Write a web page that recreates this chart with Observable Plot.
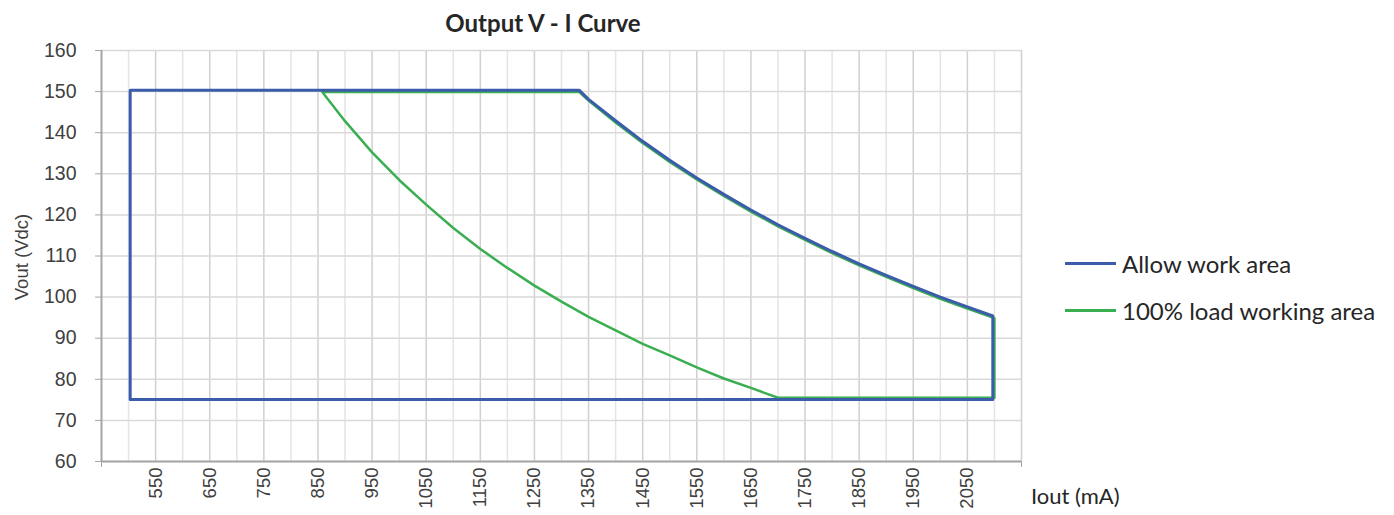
<!DOCTYPE html>
<html><head><meta charset="utf-8">
<script src="https://cdn.jsdelivr.net/npm/d3@7"></script>
<script src="https://cdn.jsdelivr.net/npm/@observablehq/plot@0.6"></script>
<style>
body{margin:0;background:#fff;}
#wrap{position:relative;width:1394px;height:515px;overflow:hidden;}
.t{position:absolute;white-space:nowrap;color:#262626;font-family:Lato,"Open Sans",sans-serif;}
.leg{position:absolute;left:1065px;display:flex;align-items:center;height:30px;}
.leg span.sw{display:inline-block;width:51px;height:3px;margin-right:6px;}
.leg span.tx{font-family:Lato,"Open Sans",sans-serif;font-size:24px;color:#262626;}
</style>
</head><body>
<div id="wrap"></div>
<script>
// ---- data ----
const xDomain = [450, 2150];
const yDomain = [60, 160];
const xTickLabels = [550, 650, 750, 850, 950, 1050, 1150, 1250, 1350, 1450, 1550, 1650, 1750, 1850, 1950, 2050];
const xMajorGrid = [550, 650, 750, 850, 950, 1050, 1150, 1250, 1350, 1450, 1550, 1650, 1750, 1850, 1950, 2050, 2150];
const xMinorGrid = [500, 600, 700, 800, 900, 1000, 1100, 1200, 1300, 1400, 1500, 1600, 1700, 1800, 1900, 2000, 2100];
const yTicks = [60, 70, 80, 90, 100, 110, 120, 130, 140, 150, 160];

const seriesNames = ["Allow work area", "100% load working area"];
const seriesColors = ["#3b5cab", "#3aae50"];

// Allow work area (Iout mA, Vout V)
const allowI = [503, 503, 1333, 1350, 1400, 1450, 1500, 1550, 1600, 1650, 1700, 1750, 1800, 1850, 1900, 1950, 2000, 2050, 2097, 2097, 503];
const allowV = [75.1, 150.3, 150.3, 148.1, 142.9, 137.9, 133.3, 129.0, 125.0, 121.2, 117.6, 114.3, 111.1, 108.1, 105.3, 102.6, 100.0, 97.6, 95.4, 75.1, 75.1];

// 100% load working area
const loadI = [858, 1333, 1350, 1400, 1450, 1500, 1550, 1600, 1650, 1700, 1750, 1800, 1850, 1900, 1950, 2000, 2050, 2100, 2100, 1700, 1650, 1600, 1550, 1500, 1450, 1400, 1350, 1300, 1250, 1200, 1150, 1100, 1050, 1000, 950, 900, 858];
const loadV = [149.9, 149.9, 147.8, 142.5, 137.5, 132.9, 128.6, 124.6, 120.8, 117.2, 113.9, 110.7, 107.7, 104.9, 102.2, 99.6, 97.2, 94.9, 75.5, 75.5, 77.9, 80.2, 82.9, 85.8, 88.6, 91.9, 95.2, 98.9, 102.8, 107.1, 111.7, 116.8, 122.5, 128.5, 135.2, 142.8, 149.9];

const allowRows = allowI.map((i, k) => ({i, v: allowV[k]}));
const loadRows = loadI.map((i, k) => ({i, v: loadV[k]}));

const axisGray = "#a6a6a6";
const fmt = d => String(d);
const chart = Plot.plot({
  width: 1394, height: 515,
  marginLeft: 101, marginRight: 373, marginTop: 50, marginBottom: 54,
  x: {domain: xDomain},
  y: {domain: yDomain},
  style: {fontFamily: "'Liberation Sans', Arial, sans-serif", fontSize: "19px", color: "#404040", background: "#fff"},
  marks: [
    Plot.gridX(xMinorGrid, {stroke: "#e4e4e4", strokeOpacity: 1, strokeWidth: 1.5}),
    Plot.gridX(xMajorGrid, {stroke: "#d0d0d0", strokeOpacity: 1, strokeWidth: 1.5}),
    Plot.gridY(yTicks, {stroke: "#d9d9d9", strokeOpacity: 1, strokeWidth: 1.5}),
    Plot.axisY(yTicks, {tickSize: 6, tickPadding: 19, tickFormat: fmt, stroke: axisGray, fill: "#404040", label: null, fontSize: 19.5}),
    Plot.axisX(xTickLabels, {tickSize: 0, tickPadding: 6, tickRotate: -90, tickFormat: fmt, fill: "#404040", label: null, fontSize: 18.5}),
    Plot.axisX(xDomain, {tickSize: 6, tickFormat: () => "", stroke: axisGray, label: null}),
    Plot.ruleX([xDomain[0]], {stroke: axisGray, strokeWidth: 2}),
    Plot.ruleY([yDomain[0]], {stroke: axisGray, strokeWidth: 2}),
    Plot.line(loadRows, {x: "i", y: "v", stroke: seriesColors[1], strokeWidth: 2.5}),
    Plot.line(allowRows, {x: "i", y: "v", stroke: seriesColors[0], strokeWidth: 3})
  ]
});
const wrap = document.getElementById("wrap");
wrap.appendChild(chart);

function addText(txt, css) {
  const d = document.createElement("div");
  d.className = "t";
  d.textContent = txt;
  Object.assign(d.style, css);
  wrap.appendChild(d);
  return d;
}
addText("Output V - I Curve", {left: "543px", top: "8px", transform: "translateX(-50%)", fontWeight: "700", fontSize: "24px"});
addText("Iout (mA)", {left: "1031px", top: "482px", fontSize: "22px"});
addText("Vout (Vdc)", {left: "22px", top: "257px", transform: "translate(-50%,-50%) rotate(-90deg)", fontSize: "18.5px", fontFamily: "'Liberation Sans', Arial, sans-serif", color: "#404040"});

seriesNames.forEach((name, k) => {
  const row = document.createElement("div");
  row.className = "leg";
  row.style.top = (k === 0 ? 248 : 295) + "px";
  const sw = document.createElement("span");
  sw.className = "sw";
  sw.style.background = seriesColors[k];
  const tx = document.createElement("span");
  tx.className = "tx";
  tx.textContent = name;
  row.appendChild(sw); row.appendChild(tx);
  wrap.appendChild(row);
});
</script>
</body></html>
